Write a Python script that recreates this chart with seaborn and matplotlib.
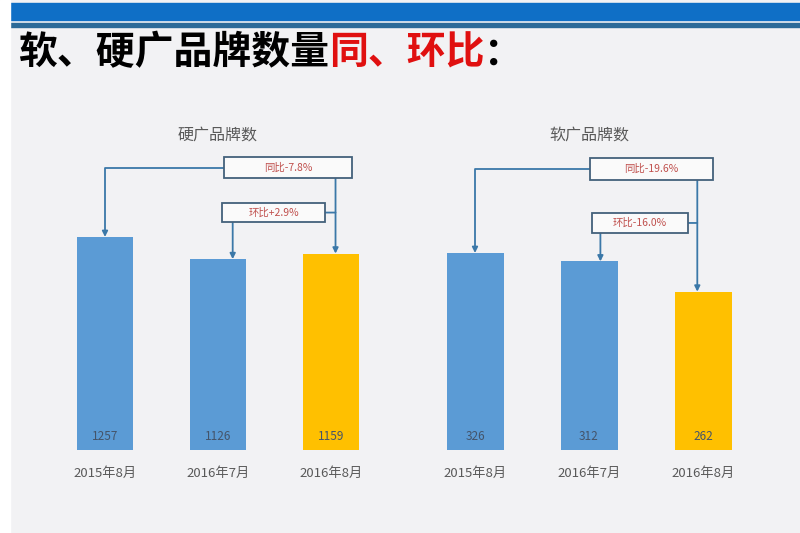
import matplotlib
matplotlib.use('Agg')
import matplotlib.pyplot as plt
import matplotlib.patches as mpatches
import seaborn as sns

# data
months = ['2015年8月', '2016年7月', '2016年8月']
hard_counts = [1257, 1126, 1159]
soft_counts = [326, 312, 262]
hard_yoy = '同比-7.8%'
hard_mom = '环比+2.9%'
soft_yoy = '同比-19.6%'
soft_mom = '环比-16.0%'

sns.set_style('white')
plt.rcParams['font.family'] = ['Noto Sans CJK SC', 'DejaVu Sans']

BLUE = '#5b9bd5'
GOLD = '#ffc000'
LINE = '#3b78a8'
BG = '#f2f2f4'

fig = plt.figure(figsize=(8, 5.33), dpi=100)
fig.patch.set_facecolor(BG)

# header band
fig.add_artist(mpatches.Rectangle((10/800, 1 - 20/533), 1, 17/533, transform=fig.transFigure,
                                  color='#0f6fc6', zorder=0))
fig.add_artist(mpatches.Rectangle((10/800, 1 - 27/533), 1, 4/533, transform=fig.transFigure,
                                  color='#2b6a98', zorder=0))
fig.add_artist(mpatches.Rectangle((0, 0), 10/800, 1, transform=fig.transFigure,
                                  color='white', zorder=0))

# title, black + red parts
renderer = fig.canvas.get_renderer()
x = 18/800
for part, col in [('软、硬广品牌数量', 'black'), ('同、环比', '#e01010'), ('：', 'black')]:
    t = fig.text(x, 1 - 53/533, part, color=col, fontsize=28, fontweight='bold', va='center')
    bb = t.get_window_extent(renderer)
    x = fig.transFigure.inverted().transform((bb.x1, bb.y1))[0]

ax1 = fig.add_axes([48.5/800, 83/533, 339/800, 330/533])
ax2 = fig.add_axes([418/800, 83/533, 342/800, 330/533])


def draw_panel(ax, counts, title, ymax, yoy, mom, yoy_box, mom_box, mom_dx, end_dx):
    sns.barplot(x=months, y=counts, hue=months, palette=[BLUE, BLUE, GOLD], legend=False,
                ax=ax, width=0.5, saturation=1, linewidth=0)
    ax.set_xlim(-0.5, 2.5)
    ax.set_ylim(0, ymax)
    ax.set_facecolor('none')
    sns.despine(ax=ax, left=True, bottom=True)
    ax.set_yticks([])
    ax.set_xlabel('')
    ax.set_ylabel('')
    ax.tick_params(axis='x', length=0, pad=12, labelsize=9.5, labelcolor='#595959')
    ax.text(0.5, 0.955, title, transform=ax.transAxes, ha='center', va='center',
            fontsize=11.5, color='#595959')
    for i, v in enumerate(counts):
        ax.text(i, 0.04, str(v), transform=ax.get_xaxis_transform(), ha='center', va='center',
                fontsize=8.5, color='#44546a')

    for (x0, y0, x1, y1), label in [(yoy_box, yoy), (mom_box, mom)]:
        ax.add_patch(mpatches.Rectangle((x0, y0), x1 - x0, y1 - y0, transform=ax.transAxes,
                                        facecolor='#fafafa', edgecolor='#44617b', lw=1.3,
                                        zorder=5, clip_on=False))
        ax.text((x0 + x1) / 2, (y0 + y1) / 2, label, transform=ax.transAxes, ha='center',
                va='center', fontsize=7.5, color='#c0504d', zorder=6)

    arrow = dict(arrowstyle='-|>', color=LINE, lw=1.3, shrinkA=0, shrinkB=0, mutation_scale=8)
    plain = dict(arrowstyle='-', color=LINE, lw=1.3, shrinkA=0, shrinkB=0)
    x0, y0, x1, y1 = yoy_box
    # yoy: left edge of box -> first bar
    ax.annotate('', xy=(0, counts[0]), xytext=(x0, (y0 + y1) / 2), textcoords='axes fraction',
                arrowprops=dict(arrow, connectionstyle='angle,angleA=0,angleB=90,rad=0'))
    # yoy: bottom of box -> last bar
    ax.annotate('', xy=(2 + end_dx, counts[2]), xytext=(2 + end_dx, y0),
                textcoords=('data', 'axes fraction'), arrowprops=arrow)
    m0, n0, m1, n1 = mom_box
    # mom: bottom of box -> middle bar
    ax.annotate('', xy=(1 + mom_dx, counts[1]), xytext=(1 + mom_dx, n0),
                textcoords=('data', 'axes fraction'), arrowprops=arrow)
    # mom: stub to the yoy vertical line
    ax.annotate('', xy=(2 + end_dx, (n0 + n1) / 2), xycoords=('data', 'axes fraction'),
                xytext=(m1, (n0 + n1) / 2), textcoords='axes fraction', arrowprops=plain)


draw_panel(ax1, hard_counts, '硬广品牌数', 1947, hard_yoy, hard_mom,
           (0.518, 0.824, 0.895, 0.888), (0.512, 0.691, 0.816, 0.748), 0.13, 0.04)
draw_panel(ax2, soft_counts, '软广品牌数', 546, soft_yoy, soft_mom,
           (0.503, 0.818, 0.863, 0.885), (0.509, 0.658, 0.789, 0.718), 0.1, -0.05)

fig.savefig('out.png', dpi=100, facecolor=fig.get_facecolor())
